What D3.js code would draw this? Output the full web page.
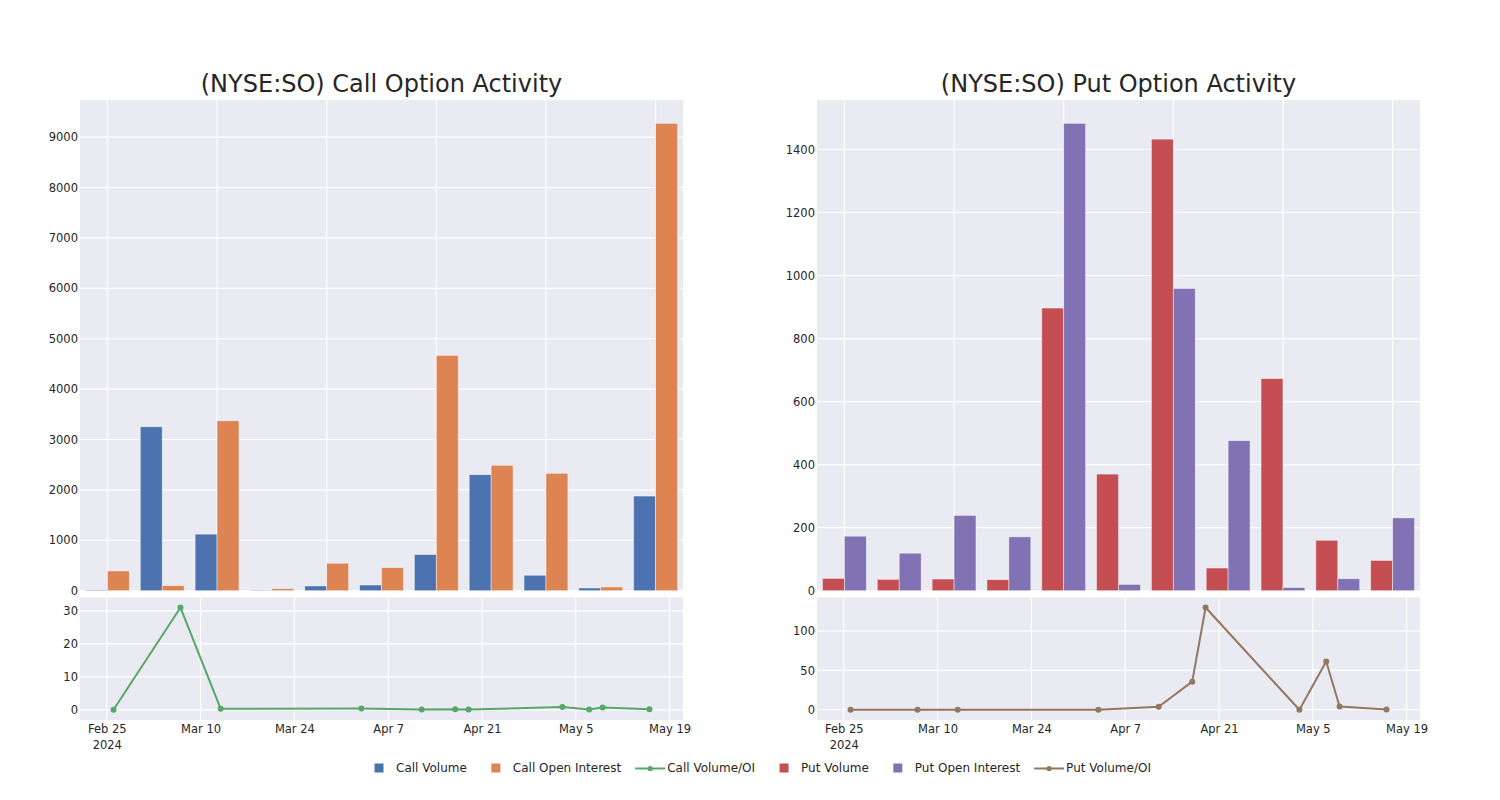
<!DOCTYPE html>
<html><head><meta charset="utf-8">
<script src="https://cdn.jsdelivr.net/npm/d3@7"></script>
<style>
body{margin:0;background:#fff}
text{font-family:"DejaVu Sans",sans-serif;fill:#262626}
</style>
</head><body>
<svg id="c" width="1500" height="800"></svg>
<script>
// ---------- data ----------
const weeks = ["2024-02-25","2024-03-03","2024-03-10","2024-03-17","2024-03-24","2024-03-31","2024-04-07","2024-04-14","2024-04-21","2024-04-28","2024-05-05"];
const callVolume = [15, 3252, 1122, 10, 94, 113, 717, 2302, 306, 54, 1878];
const callOpenInterest = [392, 100, 3371, 40, 545, 458, 4668, 2488, 2329, 74, 9272];
const putVolume = [39, 36, 37, 35, 897, 370, 1433, 72, 673, 160, 96];
const putOpenInterest = [173, 119, 239, 171, 1483, 20, 959, 476, 10, 38, 231];

const ratioDates = ["2024-02-26","2024-03-07","2024-03-13","2024-04-03","2024-04-12","2024-04-17","2024-04-19","2024-05-03","2024-05-07","2024-05-09","2024-05-16"];
const callVolumeOI = [0.04, 31.0, 0.33, 0.4, 0.1, 0.2, 0.1, 0.9, 0.1, 0.7, 0.2];
const putVolumeOI = [0, 0, 0, 0, 3.8, 35.7, 129.8, 0, 61.3, 4.2, 0.4];

const callBarTicks = [0,1000,2000,3000,4000,5000,6000,7000,8000,9000];
const putBarTicks = [0,200,400,600,800,1000,1200,1400];
const callRatioTicks = [0,10,20,30];
const putRatioTicks = [0,50,100];
const dateTicks = ["2024-02-25","2024-03-10","2024-03-24","2024-04-07","2024-04-21","2024-05-05","2024-05-19"];

const titles = ["(NYSE:SO) Call Option Activity","(NYSE:SO) Put Option Activity"];
const legendLabels = ["Call Volume","Call Open Interest","Call Volume/OI","Put Volume","Put Open Interest","Put Volume/OI"];

// ---------- style ----------
const C = {blue:"#4C72B0", orange:"#DD8452", green:"#55A868", red:"#C44E52", purple:"#8172B3", brown:"#937860", bg:"#EAEAF2"};
const parse = d3.utcParse("%Y-%m-%d");
const fmt = d3.utcFormat("%b %-d");
const svg = d3.select("#c");

const barTop = 100, barBottom = 590.7, lineTop = 597.3, lineBottom = 720;

const panels = [
  {title:titles[0], x0:80, x1:683, vol:callVolume, oi:callOpenInterest, ratio:callVolumeOI,
   cv:C.blue, co:C.orange, cr:C.green, barTicks:callBarTicks, ratioTicks:callRatioTicks},
  {title:titles[1], x0:817, x1:1420, vol:putVolume, oi:putOpenInterest, ratio:putVolumeOI,
   cv:C.red, co:C.purple, cr:C.brown, barTicks:putBarTicks, ratioTicks:putRatioTicks}
];

function styleAxis(g){
  g.select(".domain").remove();
  g.selectAll(".tick line").remove();
  g.selectAll("text").attr("font-size", 11.5).attr("fill", "#262626").attr("font-family", '"DejaVu Sans",sans-serif');
}

panels.forEach(p => {
  const g = svg.append("g");
  // ---- bar chart ----
  const x = d3.scaleBand().domain(weeks).range([p.x0, p.x1]).paddingInner(0.2).paddingOuter(0.1);
  const xs = d3.scaleBand().domain(["v","o"]).range([0, x.bandwidth()]);
  const ymax = d3.max(p.vol.concat(p.oi)) * 1.05;
  const y = d3.scaleLinear().domain([0, ymax]).range([barBottom, barTop]);

  g.append("rect").attr("x", p.x0).attr("y", barTop).attr("width", p.x1 - p.x0).attr("height", barBottom - barTop).attr("fill", C.bg);
  g.append("g").selectAll("line").data(p.barTicks).join("line")
    .attr("x1", p.x0).attr("x2", p.x1).attr("y1", d => y(d)).attr("y2", d => y(d))
    .attr("stroke", "#fff").attr("stroke-width", 1.1);
  g.append("g").selectAll("line").data(weeks.filter((d,i) => i % 2 === 0)).join("line")
    .attr("x1", d => x(d) + x.bandwidth()/2).attr("x2", d => x(d) + x.bandwidth()/2)
    .attr("y1", barTop).attr("y2", barBottom)
    .attr("stroke", "#fff").attr("stroke-width", 1.1);
  const bars = g.append("g");
  bars.selectAll(".bv").data(weeks).join("rect")
    .attr("x", d => x(d) + xs("v")).attr("width", xs.bandwidth())
    .attr("y", (d,i) => y(p.vol[i])).attr("height", (d,i) => barBottom - y(p.vol[i]))
    .attr("fill", p.cv).attr("stroke", "rgba(255,255,255,0.55)").attr("stroke-width", 0.8);
  bars.selectAll(".bo").data(weeks).join("rect")
    .attr("x", d => x(d) + xs("o")).attr("width", xs.bandwidth())
    .attr("y", (d,i) => y(p.oi[i])).attr("height", (d,i) => barBottom - y(p.oi[i]))
    .attr("fill", p.co).attr("stroke", "rgba(255,255,255,0.55)").attr("stroke-width", 0.8);
  g.append("g").attr("transform", `translate(${p.x0},0)`)
    .call(d3.axisLeft(y).tickValues(p.barTicks).tickSize(0).tickPadding(2).tickFormat(d3.format("d")))
    .call(styleAxis);

  g.append("text").attr("x", (p.x0 + p.x1)/2).attr("y", 92).attr("text-anchor", "middle")
    .attr("font-size", 24).text(p.title);

  // ---- ratio line chart ----
  const dates = ratioDates.map(parse);
  const ext = d3.extent(dates);
  const pad = 5 * 864e5;
  const xt = d3.scaleUtc().domain([new Date(+ext[0] - pad), new Date(+ext[1] + pad)]).range([p.x0, p.x1]);
  const [rmin, rmax] = d3.extent(p.ratio);
  const rr = rmax - rmin;
  const yr = d3.scaleLinear().domain([rmin - 0.1*rr, rmax + 0.1*rr]).range([lineBottom, lineTop]);
  const tickD = dateTicks.map(parse);

  g.append("rect").attr("x", p.x0).attr("y", lineTop).attr("width", p.x1 - p.x0).attr("height", lineBottom - lineTop).attr("fill", C.bg);
  g.append("g").selectAll("line").data(p.ratioTicks).join("line")
    .attr("x1", p.x0).attr("x2", p.x1).attr("y1", d => yr(d)).attr("y2", d => yr(d))
    .attr("stroke", "#fff").attr("stroke-width", 1.1);
  g.append("g").selectAll("line").data(tickD).join("line")
    .attr("x1", d => xt(d)).attr("x2", d => xt(d)).attr("y1", lineTop).attr("y2", lineBottom)
    .attr("stroke", "#fff").attr("stroke-width", 1.1);

  const line = d3.line().x((d,i) => xt(dates[i])).y(d => yr(d));
  g.append("path").datum(p.ratio).attr("d", line).attr("fill", "none")
    .attr("stroke", p.cr).attr("stroke-width", 2).attr("stroke-linejoin", "round");
  g.append("g").selectAll("circle").data(p.ratio).join("circle")
    .attr("cx", (d,i) => xt(dates[i])).attr("cy", d => yr(d)).attr("r", 3).attr("fill", p.cr);

  g.append("g").attr("transform", `translate(${p.x0},0)`)
    .call(d3.axisLeft(yr).tickValues(p.ratioTicks).tickSize(0).tickPadding(2).tickFormat(d3.format("d")))
    .call(styleAxis);
  const xa = g.append("g").attr("transform", `translate(0,${lineBottom})`)
    .call(d3.axisBottom(xt).tickValues(tickD).tickSize(0).tickFormat(fmt))
    .call(styleAxis);
  xa.selectAll(".tick text").attr("y", 13).attr("dy", null);
  xa.selectAll(".tick text").filter((d,i) => i === 0).each(function(d){
    d3.select(this).append("tspan").attr("x", 0).attr("dy", 16).text(d3.utcFormat("%Y")(d));
  });
});

// ---------- legend ----------
const legendItems = [
  {label:legendLabels[0], color:C.blue, type:"box"},
  {label:legendLabels[1], color:C.orange, type:"box"},
  {label:legendLabels[2], color:C.green, type:"line"},
  {label:legendLabels[3], color:C.red, type:"box"},
  {label:legendLabels[4], color:C.purple, type:"box"},
  {label:legendLabels[5], color:C.brown, type:"line"}
];
const lg = svg.append("g");
let cx = 364;
const ly = 768;
legendItems.forEach(it => {
  const hc = cx + 15;
  if (it.type === "box") {
    lg.append("rect").attr("x", hc - 4.5).attr("y", ly - 4.5).attr("width", 9).attr("height", 9).attr("fill", it.color);
  } else {
    lg.append("line").attr("x1", cx).attr("x2", cx + 30).attr("y1", ly + 0.5).attr("y2", ly + 0.5).attr("stroke", it.color).attr("stroke-width", 2);
    lg.append("circle").attr("cx", hc).attr("cy", ly + 0.5).attr("r", 2.6).attr("fill", it.color);
  }
  const t = lg.append("text").attr("x", cx + 32).attr("y", ly + 4.3).attr("font-size", 12).text(it.label);
  cx = cx + 32 + t.node().getComputedTextLength() + 14;
});
</script>
</body></html>
